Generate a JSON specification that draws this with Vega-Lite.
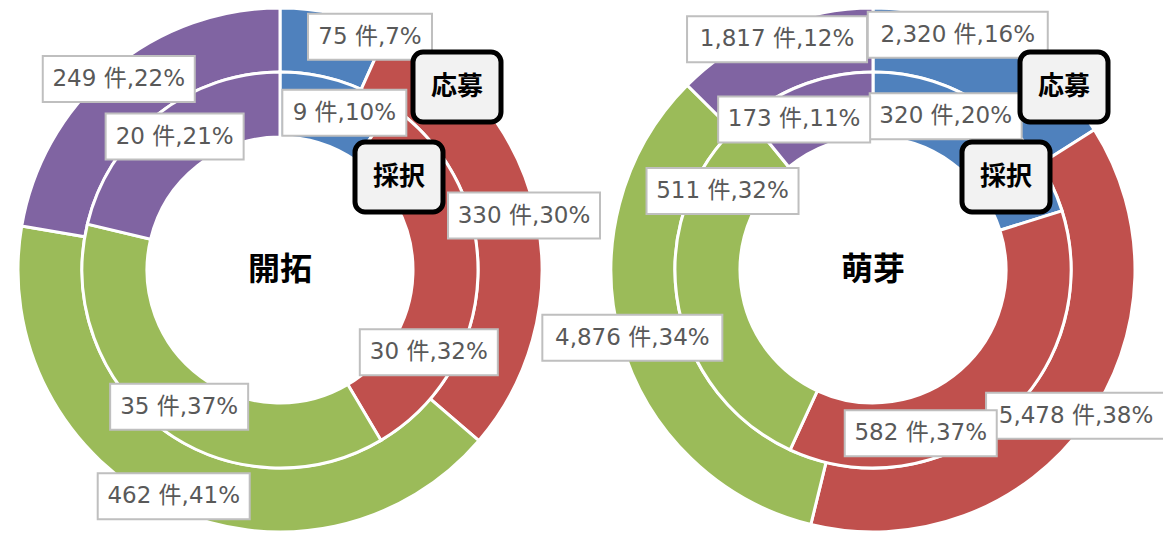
{
  "$schema": "https://vega.github.io/schema/vega-lite/v6.json",
  "padding": 0,
  "background": "white",
  "bounds": "flush",
  "config": {"view": {"stroke": null}},
  "data": {"values": [
    {"chart": "開拓", "ring": "応募", "cat": "区分1", "value": 75, "pct": 7},
    {"chart": "開拓", "ring": "応募", "cat": "区分2", "value": 330, "pct": 30},
    {"chart": "開拓", "ring": "応募", "cat": "区分3", "value": 462, "pct": 41},
    {"chart": "開拓", "ring": "応募", "cat": "区分4", "value": 249, "pct": 22},
    {"chart": "開拓", "ring": "採択", "cat": "区分1", "value": 9, "pct": 10},
    {"chart": "開拓", "ring": "採択", "cat": "区分2", "value": 30, "pct": 32},
    {"chart": "開拓", "ring": "採択", "cat": "区分3", "value": 35, "pct": 37},
    {"chart": "開拓", "ring": "採択", "cat": "区分4", "value": 20, "pct": 21},
    {"chart": "萌芽", "ring": "応募", "cat": "区分1", "value": 2320, "pct": 16},
    {"chart": "萌芽", "ring": "応募", "cat": "区分2", "value": 5478, "pct": 38},
    {"chart": "萌芽", "ring": "応募", "cat": "区分3", "value": 4876, "pct": 34},
    {"chart": "萌芽", "ring": "応募", "cat": "区分4", "value": 1817, "pct": 12},
    {"chart": "萌芽", "ring": "採択", "cat": "区分1", "value": 320, "pct": 20},
    {"chart": "萌芽", "ring": "採択", "cat": "区分2", "value": 582, "pct": 37},
    {"chart": "萌芽", "ring": "採択", "cat": "区分3", "value": 511, "pct": 32},
    {"chart": "萌芽", "ring": "採択", "cat": "区分4", "value": 173, "pct": 11}
  ]},
  "transform": [
    {"stack": "value", "groupby": ["chart", "ring"], "sort": [{"field": "cat", "order": "ascending"}], "offset": "normalize", "as": ["s0", "s1"]},
    {"calculate": "datum.chart + datum.ring + datum.cat", "as": "key"},
    {"calculate": "datum.key === '開拓応募区分1' ? 9 : datum.key === '開拓採択区分1' ? 5 : datum.key === '開拓採択区分2' ? 27 : datum.key === '萌芽応募区分1' ? -9 : datum.key === '萌芽採択区分1' ? -11 : datum.key === '萌芽採択区分2' ? 25 : datum.key === '萌芽採択区分3' ? 35 : datum.key === '萌芽採択区分4' ? -8 : 0", "as": "nudge"},
    {"calculate": "(datum.s0 + datum.s1) * PI + datum.nudge * PI / 180", "as": "mid"},
    {"calculate": "datum.ring === '応募' ? 250 : 170", "as": "lr"},
    {"calculate": "datum.lr * sin(datum.mid)", "as": "lx"},
    {"calculate": "-datum.lr * cos(datum.mid)", "as": "ly"},
    {"calculate": "format(datum.value, ',') + ' 件,' + datum.pct + '%'", "as": "label"},
    {"calculate": "14 * length(datum.label) + 26", "as": "bw"},
    {"calculate": "datum.lx - datum.bw / 2", "as": "bx1"},
    {"calculate": "datum.lx + datum.bw / 2", "as": "bx2"},
    {"calculate": "datum.ly - 23", "as": "by1"},
    {"calculate": "datum.ly + 23", "as": "by2"}
  ],
  "facet": {"column": {"field": "chart", "type": "nominal", "sort": ["開拓", "萌芽"], "header": null}},
  "spacing": 33,
  "spec": {
    "width": 560,
    "height": 533,
    "layer": [
      {
        "transform": [{"filter": "datum.ring === '応募'"}],
        "mark": {"type": "arc", "radius": 262, "radius2": 198, "stroke": "white", "strokeWidth": 3},
        "encoding": {
          "x": {"datum": 0, "type": "quantitative", "scale": {"domain": [-280, 280], "nice": false, "zero": false}, "axis": null},
          "y": {"datum": 0, "type": "quantitative", "scale": {"domain": [-270, 263], "reverse": true, "nice": false, "zero": false}, "axis": null},
          "theta": {"field": "s0", "type": "quantitative", "stack": null, "scale": {"domain": [0, 1], "range": [0, 6.283185307179586]}},
          "theta2": {"field": "s1"},
          "color": {"field": "cat", "type": "nominal", "scale": {"domain": ["区分1", "区分2", "区分3", "区分4"], "range": ["#4f81bd", "#c0504d", "#9bbb59", "#8064a2"]}, "legend": null}
        }
      },
      {
        "transform": [{"filter": "datum.ring === '採択'"}],
        "mark": {"type": "arc", "radius": 198, "radius2": 133, "stroke": "white", "strokeWidth": 3},
        "encoding": {
          "x": {"datum": 0, "type": "quantitative", "scale": {"domain": [-280, 280], "nice": false, "zero": false}, "axis": null},
          "y": {"datum": 0, "type": "quantitative", "scale": {"domain": [-270, 263], "reverse": true, "nice": false, "zero": false}, "axis": null},
          "theta": {"field": "s0", "type": "quantitative", "stack": null, "scale": {"domain": [0, 1], "range": [0, 6.283185307179586]}},
          "theta2": {"field": "s1"},
          "color": {"field": "cat", "type": "nominal", "scale": {"domain": ["区分1", "区分2", "区分3", "区分4"], "range": ["#4f81bd", "#c0504d", "#9bbb59", "#8064a2"]}, "legend": null}
        }
      },
      {
        "mark": {"type": "rect", "fill": "white", "stroke": "#bfbfbf", "strokeWidth": 2},
        "encoding": {
          "x": {"field": "bx1", "type": "quantitative", "scale": {"domain": [-280, 280], "nice": false, "zero": false}, "axis": null},
          "x2": {"field": "bx2"},
          "y": {"field": "by1", "type": "quantitative", "scale": {"domain": [-270, 263], "reverse": true, "nice": false, "zero": false}, "axis": null},
          "y2": {"field": "by2"}
        }
      },
      {
        "mark": {"type": "text", "font": "DejaVu Sans, Noto Sans CJK JP", "fontSize": 23, "fill": "#595959", "align": "center", "baseline": "middle"},
        "encoding": {
          "x": {"field": "lx", "type": "quantitative", "scale": {"domain": [-280, 280], "nice": false, "zero": false}, "axis": null},
          "y": {"field": "ly", "type": "quantitative", "scale": {"domain": [-270, 263], "reverse": true, "nice": false, "zero": false}, "axis": null},
          "text": {"field": "label"}
        }
      },
      {
        "transform": [{"filter": "datum.ring === '応募' && datum.cat === '区分1'"}],
        "mark": {"type": "text", "font": "Noto Sans CJK JP", "fontSize": 32, "fontWeight": "bold", "fill": "black", "align": "center", "baseline": "middle"},
        "encoding": {
          "x": {"datum": 0, "type": "quantitative", "scale": {"domain": [-280, 280], "nice": false, "zero": false}, "axis": null},
          "y": {"datum": 0, "type": "quantitative", "scale": {"domain": [-270, 263], "reverse": true, "nice": false, "zero": false}, "axis": null},
          "text": {"field": "chart"}
        }
      },
      {
        "transform": [
          {"filter": "datum.cat === '区分1'"},
          {"calculate": "datum.chart === '開拓' ? 0 : 14", "as": "shift"},
          {"calculate": "datum.ring === '応募' ? 133 + datum.shift : 75 + datum.shift", "as": "cx1"},
          {"calculate": "datum.cx1 + 88", "as": "cx2"},
          {"calculate": "datum.ring === '応募' ? -218 : -128", "as": "cy1"},
          {"calculate": "datum.cy1 + 70", "as": "cy2"},
          {"calculate": "(datum.cx1 + datum.cx2) / 2", "as": "ccx"},
          {"calculate": "(datum.cy1 + datum.cy2) / 2", "as": "ccy"}
        ],
        "layer": [
          {
            "mark": {"type": "rect", "fill": "#f2f2f2", "stroke": "black", "strokeWidth": 5, "cornerRadius": 10},
            "encoding": {
              "x": {"field": "cx1", "type": "quantitative", "scale": {"domain": [-280, 280], "nice": false, "zero": false}, "axis": null},
              "x2": {"field": "cx2"},
              "y": {"field": "cy1", "type": "quantitative", "scale": {"domain": [-270, 263], "reverse": true, "nice": false, "zero": false}, "axis": null},
              "y2": {"field": "cy2"}
            }
          },
          {
            "mark": {"type": "text", "font": "Noto Sans CJK JP", "fontSize": 26, "fontWeight": "bold", "fill": "black", "align": "center", "baseline": "middle"},
            "encoding": {
              "x": {"field": "ccx", "type": "quantitative", "scale": {"domain": [-280, 280], "nice": false, "zero": false}, "axis": null},
              "y": {"field": "ccy", "type": "quantitative", "scale": {"domain": [-270, 263], "reverse": true, "nice": false, "zero": false}, "axis": null},
              "text": {"field": "ring"}
            }
          }
        ]
      }
    ]
  }
}
